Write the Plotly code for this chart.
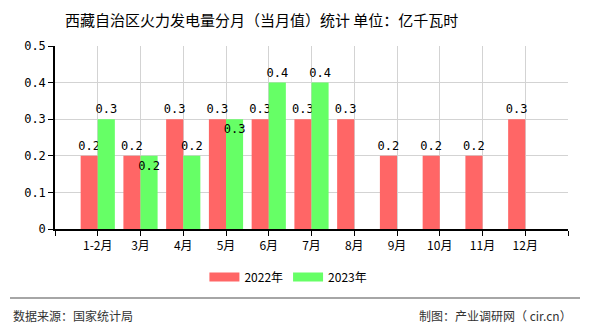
import plotly.graph_objects as go

categories = ["1-2月", "3月", "4月", "5月", "6月", "7月", "8月", "9月", "10月", "11月", "12月"]
values_2022 = [0.2, 0.2, 0.3, 0.3, 0.3, 0.3, 0.3, 0.2, 0.2, 0.2, 0.3]
values_2023 = [0.3, 0.2, 0.2, 0.3, 0.4, 0.4]
pos_2023 = ["outside", "inside", "outside", "inside", "outside", "outside"]
y_ticks = [0, 0.1, 0.2, 0.3, 0.4, 0.5]
y_ticktext = ["0", "0.1", "0.2", "0.3", "0.4", "0.5"]
series_names = ["2022年", "2023年"]
colors = ["#FF6666", "#66FF66"]

CJK = "Noto Sans CJK SC"
MONO = "DejaVu Sans Mono"

xs = list(range(1, len(categories) + 1))
n_slots = len(categories) + 1

fig = go.Figure()
fig.add_trace(go.Bar(
    x=xs, y=values_2022, name=series_names[0], showlegend=False,
    marker=dict(color=colors[0], line=dict(width=0)),
    text=[str(v) for v in values_2022], textposition="outside", textangle=0,
    textfont=dict(family=MONO, size=12, color="black"),
    constraintext="none", cliponaxis=False,
))
fig.add_trace(go.Bar(
    x=xs[:len(values_2023)], y=values_2023, name=series_names[1], showlegend=False,
    marker=dict(color=colors[1], line=dict(width=0)),
    text=[str(v) for v in values_2023], textposition=pos_2023, textangle=0,
    insidetextanchor="end",
    textfont=dict(family=MONO, size=12, color="black"),
    insidetextfont=dict(family=MONO, size=12, color="black"),
    outsidetextfont=dict(family=MONO, size=12, color="black"),
    constraintext="none", cliponaxis=False,
))
# legend entries (wide rectangular swatches)
for nm, col in zip(series_names, colors):
    fig.add_trace(go.Scatter(x=[None], y=[None], mode="lines", name=nm,
                             line=dict(color=col, width=9), showlegend=True))

fig.update_layout(
    width=590, height=330,
    margin=dict(l=55, r=22, t=46, b=101),
    paper_bgcolor="white", plot_bgcolor="white",
    barmode="group", bargap=0.2, bargroupgap=0,
    legend=dict(orientation="h", x=0.455, xanchor="center", y=-0.262, yanchor="middle",
                font=dict(family=CJK, size=12, color="black"),
                itemwidth=30, traceorder="normal", tracegroupgap=0),
    annotations=[
        dict(text="西藏自治区火力发电量分月（当月值）统计 单位：亿千瓦时",
             xref="paper", yref="paper", x=(261 - 55) / 513, y=1 + (46 - 19) / 183,
             xanchor="center", yanchor="middle", showarrow=False,
             font=dict(family=CJK, size=15, color="black")),
        dict(text="数据来源：国家统计局", xref="paper", yref="paper",
             x=-(55 - 11) / 513, y=-(315 - 229) / 183, xanchor="left", yanchor="middle",
             showarrow=False, font=dict(family=CJK, size=12, color="#333333")),
        dict(text="制图：产业调研网（ cir.cn）", xref="paper", yref="paper",
             x=(574 - 55) / 513, y=-(315 - 229) / 183, xanchor="right", yanchor="middle",
             showarrow=False, font=dict(family=CJK, size=12, color="#333333")),
    ],
    shapes=[
        dict(type="line", xref="paper", yref="paper",
             x0=-(55 - 10) / 513, x1=(580 - 55) / 513,
             y0=-(298 - 229) / 183, y1=-(298 - 229) / 183,
             line=dict(color="#888888", width=1.5)),
    ],
)

fig.update_xaxes(
    range=[0, n_slots], tickmode="array",
    tickvals=list(range(0, n_slots + 1)),
    ticktext=[""] + categories + [""],
    showgrid=True, gridcolor="#D3D3D3", gridwidth=1,
    showline=True, linecolor="black", linewidth=1.5,
    ticks="outside", ticklen=5, tickcolor="black",
    tickfont=dict(family=CJK, size=12, color="black"),
    zeroline=False, fixedrange=True,
)
fig.update_yaxes(
    range=[0, 0.5], tickmode="array", tickvals=y_ticks, ticktext=y_ticktext,
    showgrid=True, gridcolor="#D3D3D3", gridwidth=1,
    showline=True, linecolor="black", linewidth=1.5,
    ticks="outside", ticklen=5, tickcolor="black",
    tickfont=dict(family=MONO, size=12, color="black"),
    zeroline=False, fixedrange=True,
)

fig.write_html("out.html")
